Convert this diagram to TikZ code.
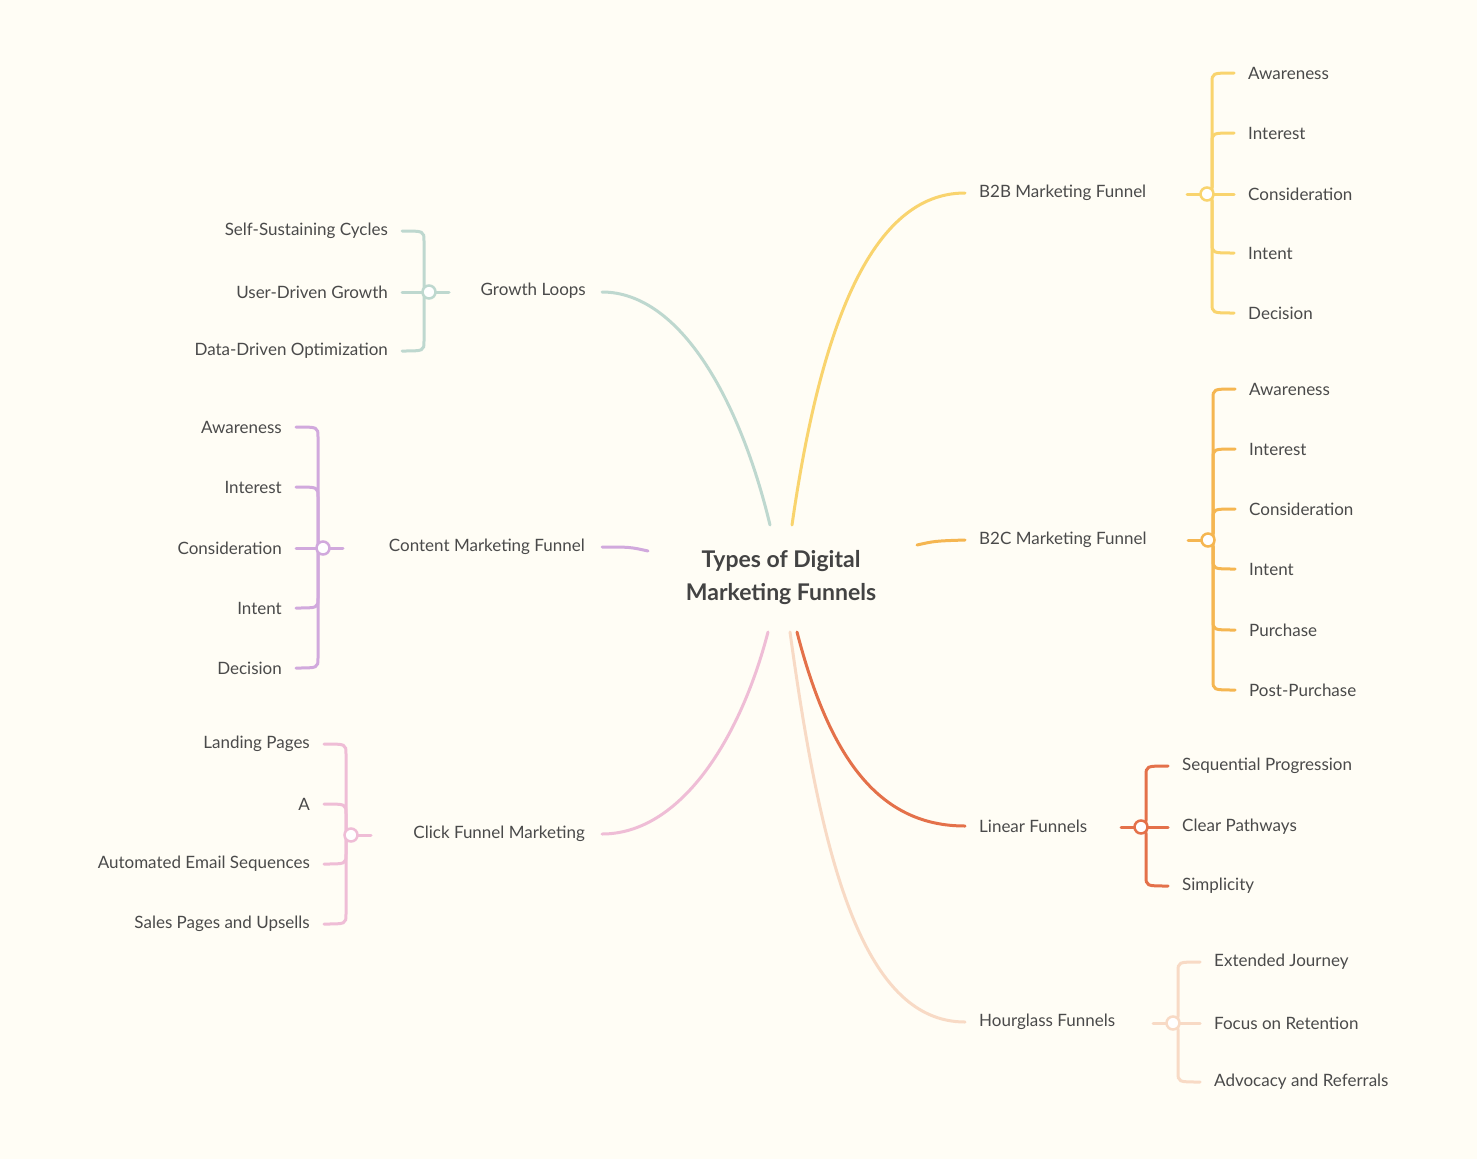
\documentclass[tikz,border=0pt]{standalone}
\usepackage{fontspec}
\setmainfont{Lato}
\definecolor{bg}{HTML}{FFFDF5}
\definecolor{txt}{HTML}{4A4A4A}
\definecolor{cB2B}{HTML}{F9D46E}
\definecolor{cB2C}{HTML}{F5B651}
\definecolor{cLin}{HTML}{E4714A}
\definecolor{cHour}{HTML}{F8DAC5}
\definecolor{cClick}{HTML}{EFBDD6}
\definecolor{cCont}{HTML}{D1A9DD}
\definecolor{cGrow}{HTML}{BED8CF}
\tikzset{
 lbl/.style={text=txt,font=\fontsize{17}{20}\selectfont,inner sep=0pt},
 br/.style={line width=3pt,line cap=round},
 hub/.style={circle,draw,line width=2.5pt,fill=white,minimum size=13pt,inner sep=0pt},
}
% right group: color, circle x, circle y, child list y/label
\newcommand{\rgrp}[4]{%
 \foreach \yy/\tt in {#4}{%
  \pgfmathsetmacro{\dd}{\yy-#3}%
  \pgfmathsetmacro{\ss}{\dd>0 ? 10 : (\dd<0 ? -10 : 0)}%
  \node[lbl,anchor=west] at (#2+41,\yy) {\tt};
  \ifdim\dd pt=0pt
   \draw[br,#1] (#2,#3) -- (#2+27,\yy);
  \else
   \draw[br,#1] (#2,#3) .. controls (#2+5,#3) .. (#2+5,#3+\ss) -- (#2+5,\yy-\ss) .. controls (#2+5,\yy) .. (#2+27,\yy);
  \fi
 }%
 \node[hub,draw=#1] at (#2,#3) {};
}
\newcommand{\lgrp}[4]{%
 \foreach \yy/\tt in {#4}{%
  \pgfmathsetmacro{\dd}{\yy-#3}%
  \pgfmathsetmacro{\ss}{\dd>0 ? 10 : (\dd<0 ? -10 : 0)}%
  \node[lbl,anchor=east] at (#2-41,\yy) {\tt};
  \ifdim\dd pt=0pt
   \draw[br,#1] (#2,#3) -- (#2-27,\yy);
  \else
   \draw[br,#1] (#2,#3) .. controls (#2-5,#3) .. (#2-5,#3+\ss) -- (#2-5,\yy-\ss) .. controls (#2-5,\yy) .. (#2-27,\yy);
  \fi
 }%
 \node[hub,draw=#1] at (#2,#3) {};
}
\begin{document}
\begin{tikzpicture}[x=1pt,y=-1pt]
\fill[bg] (0,0) rectangle (1477,1159);
\useasboundingbox (0,0) rectangle (1477,1159);
\node[text=txt!90!black,font=\bfseries\fontsize{23}{33}\selectfont,align=center] (c) at (781,578) {Types of Digital\\Marketing Funnels};
% main labels
\node[lbl,anchor=west] (b2b) at (979,193) {B2B Marketing Funnel};
\node[lbl,anchor=west] (b2c) at (979,540) {B2C Marketing Funnel};
\node[lbl,anchor=west] (lin) at (979,826) {Linear Funnels};
\node[lbl,anchor=west] (hour) at (979,1022) {Hourglass Funnels};
\node[lbl,anchor=east] (grow) at (586,291) {Growth Loops};
\node[lbl,anchor=east] (cont) at (585,547) {Content Marketing Funnel};
\node[lbl,anchor=east] (click) at (585,834) {Click Funnel Marketing};
% main connectors
\draw[br,cB2B] (792,525) .. controls (820,330) and (870,193) .. (965,193);
\draw[br,cB2C] (917,545) .. controls (935,541) .. (965,540);
\draw[br,cLin] (797,632) .. controls (830,760) and (880,826) .. (965,826);
\draw[br,cHour] (790,632) .. controls (820,850) and (860,1022) .. (965,1022);
\draw[br,cGrow] (770,525) .. controls (740,400) and (680,292) .. (602,292);
\draw[br,cCont] (648,551) .. controls (630,547) .. (602,547);
\draw[br,cClick] (768,632) .. controls (740,740) and (680,834) .. (602,834);
% label to hub
\draw[br,cB2B] (1187,194) -- (1207,194);
\draw[br,cB2C] (1188,540) -- (1208,540);
\draw[br,cLin] (1121,827) -- (1141,827);
\draw[br,cHour] (1153,1023) -- (1173,1023);
\draw[br,cGrow] (449,292) -- (429,292);
\draw[br,cCont] (343,548) -- (323,548);
\draw[br,cClick] (371,835) -- (351,835);
\rgrp{cB2B}{1207}{194}{73/Awareness,133/Interest,194/Consideration,253/Intent,313/Decision}
\rgrp{cB2C}{1208}{540}{389/Awareness,449/Interest,509/Consideration,569/Intent,630/Purchase,690/Post-Purchase}
\rgrp{cLin}{1141}{827}{766/Sequential Progression,827/Clear Pathways,886/Simplicity}
\rgrp{cHour}{1173}{1023}{962/Extended Journey,1023/Focus on Retention,1082/Advocacy and Referrals}
\lgrp{cGrow}{429}{292}{231/Self-Sustaining Cycles,292/User-Driven Growth,351/Data-Driven Optimization}
\lgrp{cCont}{323}{548}{427/Awareness,487/Interest,548/Consideration,608/Intent,668/Decision}
\lgrp{cClick}{351}{835}{744/Landing Pages,804/A/B Testing,864/Automated Email Sequences,924/Sales Pages and Upsells}
\end{tikzpicture}
\end{document}
